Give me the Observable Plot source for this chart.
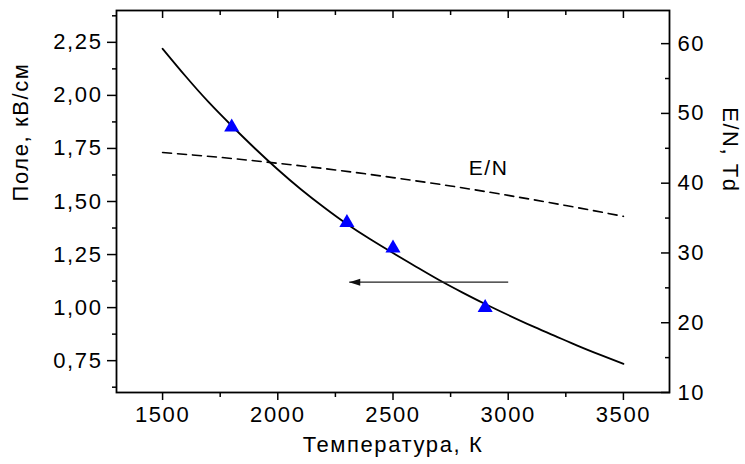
<!DOCTYPE html>
<html><head><meta charset="utf-8">
<script src="https://cdn.jsdelivr.net/npm/d3@7"></script>
<script src="https://cdn.jsdelivr.net/npm/@observablehq/plot@0.6"></script>
<style>body{margin:0;background:#fff}</style>
</head><body><div id="chart"></div>
<script>
// ---- data ----
const temperatureK = [1500,1600,1700,1800,1900,2000,2100,2200,2300,2400,2500,2600,2700,2800,2900,3000,3100,3200,3300,3400,3500];
const fieldKVcm   = [2.220,2.090,1.968,1.857,1.751,1.651,1.558,1.473,1.394,1.323,1.257,1.193,1.130,1.072,1.017,0.965,0.915,0.868,0.821,0.777,0.735];
const enTemperatureK = [1500,1750,2000,2250,2500,2750,3000,3250,3500];
const enTd = [44.4,43.7,42.85,41.9,40.8,39.6,38.25,36.8,35.25];
const pointTemperatureK = [1800,2300,2500,2900];
const pointFieldKVcm = [1.85,1.40,1.28,1.00];
const arrowTailK = 3000, arrowTipK = 2310, arrowFieldKVcm = 1.12;
const enLabel = {text: "E/N", x: 2915, y: 1.655};
const xTicks = [1500,2000,2500,3000,3500];
const xMinor = [1750,2250,2750,3250];
const leftTicks = [0.75,1.00,1.25,1.50,1.75,2.00,2.25];
const leftMinor = [0.625,0.875,1.125,1.375,1.625,1.875,2.125,2.375];
const rightTicks = [10,20,30,40,50,60];
const rightMinor = [15,25,35,45,55];
const xTitle = "Температура, К";
const leftTitle = "Поле, кВ/см";
const rightTitle = "E/N, Td";

// ---- scales ----
const leftDomain = [0.6, 2.4];
const rightDomain = [10, 64.75];
const toLeft = v => leftDomain[0] + (v - rightDomain[0]) * (leftDomain[1]-leftDomain[0]) / (rightDomain[1]-rightDomain[0]);
const fromLeft = u => rightDomain[0] + (u - leftDomain[0]) * (rightDomain[1]-rightDomain[0]) / (leftDomain[1]-leftDomain[0]);

const curve = temperatureK.map((t,i) => ({t, f: fieldKVcm[i]}));
const en = enTemperatureK.map((t,i) => ({t, v: toLeft(enTd[i])}));
const pts = pointTemperatureK.map((t,i) => ({t, f: pointFieldKVcm[i]}));

const FS = 22;   // tick labels
const TS = 22;   // axis titles
const none = () => "";
const arrowHead = {draw(ctx) { ctx.moveTo(0,0); ctx.lineTo(11,-3.5); ctx.lineTo(11,3.5); ctx.closePath(); }};

const chart = Plot.plot({
  width: 745, height: 464,
  marginLeft: 116, marginRight: 76, marginTop: 10, marginBottom: 72,
  style: {fontFamily: "'Liberation Sans', Arial, sans-serif", fontSize: FS + "px", background: "#fff", color: "#000", letterSpacing: "1.6px"},
  x: {domain: [1300, 3700]},
  y: {domain: leftDomain},
  marks: [
    // left axis
    Plot.axisY({anchor: "left", ticks: leftTicks, tickSize: 9, tickPadding: 5, strokeWidth: 1.5, fontSize: FS,
      tickFormat: d => d.toFixed(2).replace(".", ","), label: null}),
    Plot.axisY({anchor: "left", ticks: leftMinor, tickSize: 4, strokeWidth: 1.5, tickFormat: none, label: null}),
    // bottom axis
    Plot.axisX({anchor: "bottom", ticks: xTicks, tickSize: 8, tickPadding: 6, strokeWidth: 1.5, fontSize: FS,
      tickFormat: d => String(d), label: null}),
    Plot.axisX({anchor: "bottom", ticks: xMinor, tickSize: 5, strokeWidth: 1.5, tickFormat: none, label: null}),
    // top inward ticks
    Plot.axisX({anchor: "top", ticks: xTicks, tickSize: 7, dy: 7, strokeWidth: 1.5, tickFormat: none, label: null}),
    Plot.axisX({anchor: "top", ticks: xMinor, tickSize: 4, dy: 4, strokeWidth: 1.5, tickFormat: none, label: null}),
    // right axis (E/N)
    Plot.axisY({anchor: "right", ticks: rightTicks.map(toLeft), tickSize: 9, dx: -9, strokeWidth: 1.5, tickFormat: none, label: null}),
    Plot.axisY({anchor: "right", ticks: rightMinor.map(toLeft), tickSize: 5, dx: -5, strokeWidth: 1.5, tickFormat: none, label: null}),
    Plot.axisY({anchor: "right", ticks: rightTicks.map(toLeft), tickSize: 0, tickPadding: 8, fontSize: FS,
      tickFormat: d => String(Math.round(fromLeft(d))), label: null}),
    Plot.frame({stroke: "#000", strokeWidth: 1.8}),
    // titles
    Plot.text([xTitle], {text: d => d, frameAnchor: "bottom", dy: 59, fontSize: TS, ariaLabel: "xtitle"}),
    Plot.text([leftTitle], {text: d => d, frameAnchor: "left", dx: -96, rotate: -90, fontSize: TS, ariaLabel: "ytitle"}),
    Plot.text([rightTitle], {text: d => d, frameAnchor: "right", dx: 61, dy: -9, rotate: 90, fontSize: TS, ariaLabel: "ytitle"}),
    // data
    Plot.line(en, {x: "t", y: "v", curve: "natural", stroke: "#000", strokeWidth: 1.6, strokeDasharray: "9,6"}),
    Plot.line(curve, {x: "t", y: "f", curve: "natural", stroke: "#000", strokeWidth: 1.8}),
    Plot.link([{x1: arrowTailK, x2: arrowTipK, y: arrowFieldKVcm}], {x1: "x1", x2: "x2", y1: "y", y2: "y", stroke: "#222", strokeWidth: 1.2}),
    Plot.dot([{x: arrowTipK, y: arrowFieldKVcm}], {x: "x", y: "y", symbol: arrowHead, fill: "#111", stroke: "none"}),
    Plot.dot(pts, {x: "t", y: "f", symbol: "triangle", r: 5.6, fill: "#0000ff", stroke: "none"}),
    Plot.text([enLabel], {x: "x", y: "y", text: "text", fontSize: 21})
  ]
});
d3.select(chart).selectAll('g[aria-label="xtitle"] text').style("letter-spacing", "1.5px");
d3.select(chart).selectAll('g[aria-label="ytitle"] text').style("letter-spacing", "0.3px");
document.getElementById("chart").appendChild(chart);
</script></body></html>
